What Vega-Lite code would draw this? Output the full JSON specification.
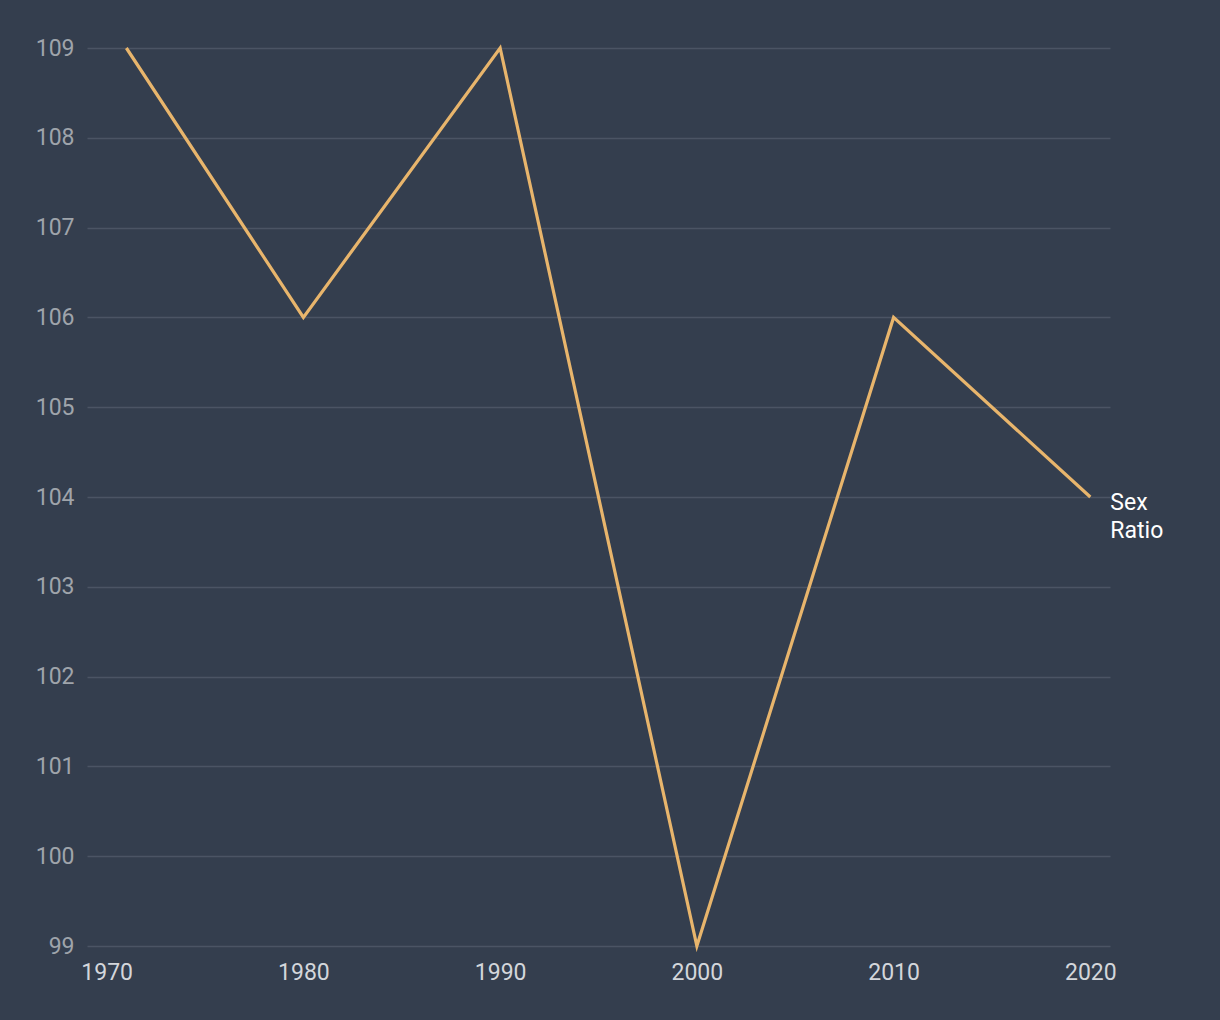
{
  "$schema": "https://vega.github.io/schema/vega-lite/v6.json",
  "width": 1023,
  "height": 898,
  "autosize": {"type": "none"},
  "padding": {"left": 87, "top": 48, "right": 110, "bottom": 74},
  "background": "#343e4e",
  "config": {
    "view": {"stroke": null},
    "font": "Roboto",
    "axis": {"domain": false, "ticks": false}
  },
  "data": {
    "values": [
      {"year": 1971, "value": 109, "label": ""},
      {"year": 1980, "value": 106, "label": ""},
      {"year": 1990, "value": 109, "label": ""},
      {"year": 2000, "value": 99, "label": ""},
      {"year": 2010, "value": 106, "label": ""},
      {"year": 2020, "value": 104, "label": "Sex\nRatio"}
    ]
  },
  "encoding": {
    "x": {
      "field": "year",
      "type": "quantitative",
      "scale": {"domain": [1969, 2021], "nice": false, "zero": false},
      "axis": {
        "title": null,
        "values": [1970, 1980, 1990, 2000, 2010, 2020],
        "format": "d",
        "grid": false,
        "labelFontSize": 23,
        "labelColor": "#d3d6db",
        "labelPadding": 15,
        "labelFlush": false
      }
    },
    "y": {
      "field": "value",
      "type": "quantitative",
      "scale": {"domain": [99, 109], "nice": false, "zero": false},
      "axis": {
        "title": null,
        "values": [99, 100, 101, 102, 103, 104, 105, 106, 107, 108, 109],
        "grid": true,
        "gridColor": "#4b5464",
        "gridWidth": 1.5,
        "labelFontSize": 23,
        "labelColor": "#9fa4ab",
        "labelPadding": 13,
        "labelFlush": false
      }
    }
  },
  "layer": [
    {
      "mark": {"type": "line", "color": "#e8b56c", "strokeWidth": 3.2}
    },
    {
      "mark": {
        "type": "text",
        "align": "left",
        "baseline": "alphabetic",
        "dx": 20,
        "dy": 13,
        "fontSize": 23,
        "lineHeight": 28,
        "lineBreak": "\n",
        "color": "#ffffff"
      },
      "encoding": {"text": {"field": "label"}}
    }
  ]
}
